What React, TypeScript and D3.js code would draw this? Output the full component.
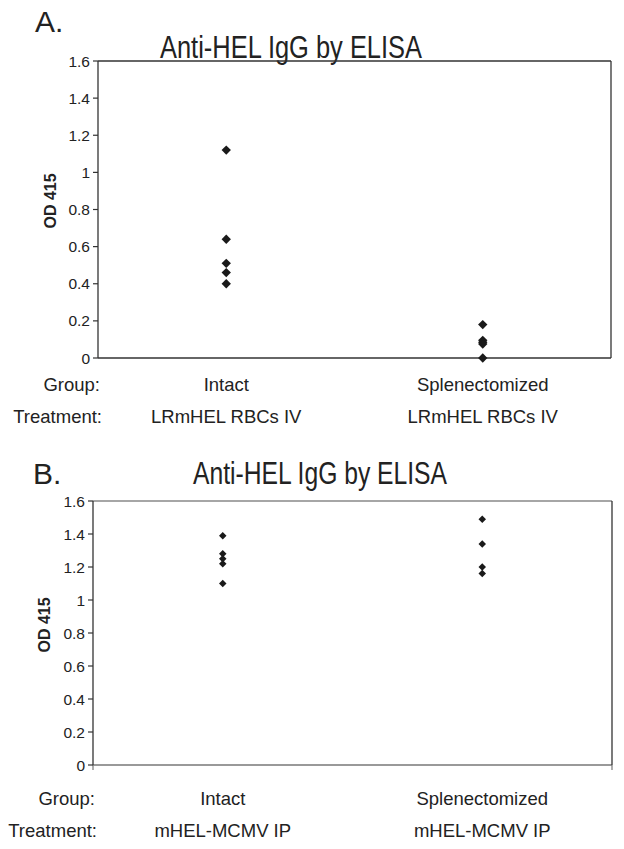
import React from "react";
import * as d3 from "d3";

const groups = ["Intact", "Splenectomized"];
const treatmentsA = ["LRmHEL RBCs IV", "LRmHEL RBCs IV"];
const treatmentsB = ["mHEL-MCMV IP", "mHEL-MCMV IP"];
const panelAIntact = [1.12, 0.64, 0.51, 0.46, 0.4];
const panelASplen = [0.18, 0.095, 0.085, 0.075, 0.0];
const panelBIntact = [1.39, 1.28, 1.25, 1.22, 1.1];
const panelBSplen = [1.49, 1.34, 1.2, 1.16];
const yTicks = [0, 0.2, 0.4, 0.6, 0.8, 1, 1.2, 1.4, 1.6];
const titleText = "Anti-HEL IgG by ELISA";
const yLabel = "OD 415";

const FONT = "'Liberation Sans', Arial, sans-serif";
const TEXT = "#222";

type PanelProps = {
  letter: string;
  letterX: number;
  letterY: number;
  titleX: number;
  titleY: number;
  titleLen: number;
  titleSize: number;
  left: number;
  right: number;
  top: number;
  bottom: number;
  series: number[][];
  treatments: string[];
  markerSize: number;
  yLabelX: number;
  yLabelY: number;
  groupY: number;
  treatY: number;
  topColor: string;
  bottomColor: string;
  sideColor: string;
  xEndTicks: boolean;
};

function Panel(p: PanelProps) {
  const x = d3.scaleBand<string>().domain(groups).range([p.left, p.right]).paddingInner(0).paddingOuter(0);
  const y = d3.scaleLinear().domain([0, 1.6]).range([p.bottom, p.top]);
  const sym = d3.symbol().type(d3.symbolDiamond2).size(p.markerSize)();
  const cx = (g: string) => (x(g) as number) + x.bandwidth() / 2;
  return (
    <g>
      <text x={p.letterX} y={p.letterY} fontFamily={FONT} fontSize={30} fill={TEXT}>{p.letter}</text>
      <text x={p.titleX} y={p.titleY} fontFamily={FONT} fontSize={p.titleSize} fill={TEXT}
        textLength={p.titleLen} lengthAdjust="spacingAndGlyphs">{titleText}</text>
      <line x1={p.left} x2={p.right} y1={p.top} y2={p.top} stroke={p.topColor} strokeWidth={1.3} />
      <line x1={p.left} x2={p.right} y1={p.bottom} y2={p.bottom} stroke={p.bottomColor} strokeWidth={1.3} />
      <line x1={p.left} x2={p.left} y1={p.top} y2={p.bottom} stroke={p.sideColor} strokeWidth={1.3} />
      <line x1={p.right} x2={p.right} y1={p.top} y2={p.bottom} stroke={p.sideColor} strokeWidth={1.3} />
      {p.xEndTicks && [p.left, p.right].map((xx, i) => (
        <line key={i} x1={xx} x2={xx} y1={p.bottom} y2={p.bottom + 5} stroke={p.bottomColor} strokeWidth={1.2} />
      ))}
      {yTicks.map((t) => (
        <g key={t}>
          <line x1={p.left - 5} x2={p.left} y1={y(t)} y2={y(t)} stroke={p.sideColor} strokeWidth={1.2} />
          <text x={p.left - 8} y={y(t)} dy="0.36em" textAnchor="end" fontFamily={FONT} fontSize={15.5} fill={TEXT}>
            {String(+t.toFixed(1))}
          </text>
        </g>
      ))}
      <text transform={`translate(${p.yLabelX},${p.yLabelY}) rotate(-90)`} textAnchor="middle" dy="0.35em"
        fontFamily={FONT} fontSize={16} fontWeight="bold" fill={TEXT}>{yLabel}</text>
      {groups.map((g, gi) =>
        p.series[gi].map((v, i) => (
          <path key={g + i} d={sym as string} transform={`translate(${cx(g)},${y(v)})`} fill="#1a1a1a" />
        ))
      )}
      <text x={p.left + 2} y={p.groupY} textAnchor="end" fontFamily={FONT} fontSize={18.5} fill={TEXT}>Group:</text>
      <text x={p.left + 4} y={p.treatY} textAnchor="end" fontFamily={FONT} fontSize={18.5} fill={TEXT}>Treatment:</text>
      {groups.map((g, gi) => (
        <g key={g}>
          <text x={cx(g)} y={p.groupY} textAnchor="middle" fontFamily={FONT} fontSize={18.5} fill={TEXT}>{g}</text>
          <text x={cx(g)} y={p.treatY} textAnchor="middle" fontFamily={FONT} fontSize={18.5} fill={TEXT}>{p.treatments[gi]}</text>
        </g>
      ))}
    </g>
  );
}

export default function App() {
  return (
    <svg width={624} height={849} style={{ position: "absolute", left: 0, top: 0, background: "#fff" }}>
      <rect width={624} height={849} fill="#fff" />
      <Panel letter="A." letterX={35} letterY={32} titleX={160} titleY={58} titleLen={262} titleSize={32}
        left={98} right={611} top={61} bottom={358} series={[panelAIntact, panelASplen]} treatments={treatmentsA}
        markerSize={56} yLabelX={50} yLabelY={201} groupY={391} treatY={423}
        topColor="#333" bottomColor="#333" sideColor="#333" xEndTicks={false} />
      <Panel letter="B." letterX={33} letterY={484} titleX={193} titleY={484} titleLen={254} titleSize={31}
        left={93} right={612} top={501} bottom={765} series={[panelBIntact, panelBSplen]} treatments={treatmentsB}
        markerSize={36} yLabelX={44} yLabelY={625} groupY={805} treatY={837}
        topColor="#888" bottomColor="#777" sideColor="#333" xEndTicks={true} />
    </svg>
  );
}
